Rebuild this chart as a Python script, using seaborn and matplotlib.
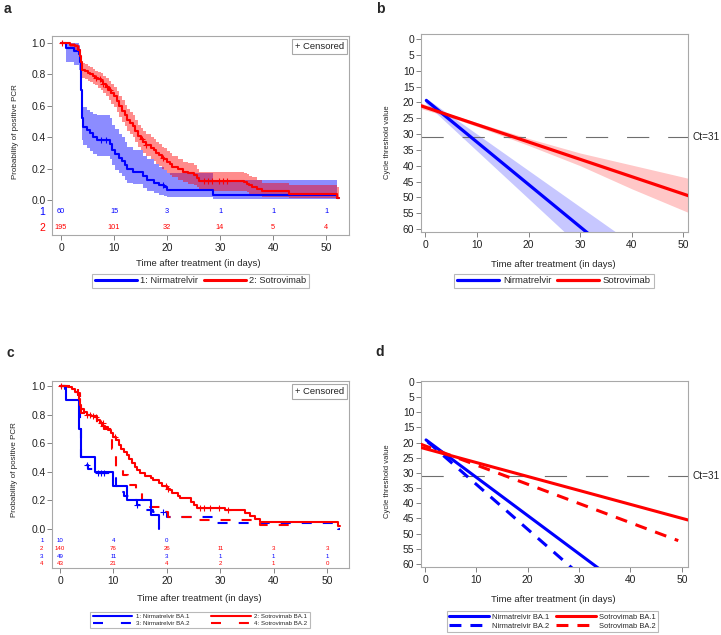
import numpy as np
import pandas as pd
import matplotlib
matplotlib.use("Agg")
import matplotlib.pyplot as plt
import matplotlib.transforms as mtransforms
from matplotlib.lines import Line2D
import seaborn as sns

# ---------------- data ----------------
BLUE = "#0000ff"
RED = "#ff0000"
GRAY = "#a8a8a8"

risk_times = [0, 10, 20, 30, 40, 50]

# Panel a: Kaplan-Meier, overall (step times, estimate, lower / upper confidence limits)
a_nirm_t = [0, 1.0, 2.5, 3.4, 3.6, 3.7, 4.0, 4.2, 4.9, 5.4, 6.0, 6.7, 9.2, 9.6, 10.2, 11.0, 11.5,
            12.0, 12.5, 13.5, 15.5, 16.3, 17.5, 18.5, 19.5, 20.0, 28.6, 52.1, 52.4]
a_nirm_s = [1.0, 0.967, 0.95, 0.93, 0.88, 0.70, 0.52, 0.467, 0.446, 0.425, 0.40, 0.38, 0.36, 0.32,
            0.29, 0.27, 0.25, 0.22, 0.20, 0.18, 0.15, 0.13, 0.11, 0.095, 0.08, 0.065, 0.033, 0.01, 0.01]
a_nirm_lo = [1.0, 0.88, 0.86, 0.83, 0.76, 0.57, 0.38, 0.35, 0.33, 0.31, 0.29, 0.28, 0.26, 0.22,
             0.19, 0.17, 0.15, 0.13, 0.11, 0.10, 0.075, 0.06, 0.045, 0.035, 0.025, 0.02, 0.005, 0.01, 0.01]
a_nirm_hi = [1.0, 1.0, 1.0, 0.99, 0.96, 0.81, 0.64, 0.59, 0.575, 0.56, 0.55, 0.54, 0.52, 0.48,
             0.45, 0.42, 0.40, 0.37, 0.34, 0.32, 0.28, 0.26, 0.23, 0.21, 0.19, 0.17, 0.13, 0.01, 0.01]
a_nirm_cens = [7.5, 8.5, 19.3]

a_sotr_t = [0, 1.7, 2.6, 3.3, 3.6, 3.8, 4.0, 4.5, 5.0, 5.5, 6.0, 6.5, 7.0, 7.5, 8.0, 8.5, 9.0, 9.5,
            10.0, 10.5, 11.0, 11.5, 12.0, 12.5, 13.0, 13.5, 14.0, 14.5, 15.0, 15.5, 16.0, 17.0, 17.5,
            18.0, 18.5, 19.0, 19.5, 20.0, 20.5, 21.0, 22.0, 23.0, 24.0, 25.0, 25.6, 26.0, 34.5, 35.0,
            35.5, 36.0, 37.0, 38.0, 43.0, 52.0, 52.5]
a_sotr_s = [1.0, 0.99, 0.98, 0.955, 0.92, 0.88, 0.83, 0.82, 0.81, 0.80, 0.79, 0.78, 0.77, 0.76, 0.74,
            0.72, 0.70, 0.68, 0.66, 0.63, 0.60, 0.57, 0.54, 0.51, 0.49, 0.47, 0.44, 0.41, 0.39, 0.37,
            0.35, 0.33, 0.32, 0.30, 0.285, 0.27, 0.26, 0.24, 0.23, 0.21, 0.195, 0.18, 0.17, 0.16, 0.14,
            0.12, 0.115, 0.105, 0.095, 0.085, 0.07, 0.055, 0.04, 0.015, 0.015]
a_sotr_lo = [1.0, 0.97, 0.955, 0.925, 0.885, 0.84, 0.78, 0.77, 0.76, 0.75, 0.74, 0.73, 0.715, 0.70,
             0.68, 0.66, 0.635, 0.61, 0.59, 0.56, 0.53, 0.50, 0.47, 0.44, 0.42, 0.40, 0.37, 0.34,
             0.32, 0.30, 0.28, 0.26, 0.25, 0.23, 0.215, 0.20, 0.19, 0.17, 0.16, 0.145, 0.13, 0.115,
             0.105, 0.095, 0.08, 0.06, 0.055, 0.05, 0.04, 0.035, 0.025, 0.02, 0.012, 0.004, 0.004]
a_sotr_hi = [1.0, 1.0, 0.995, 0.98, 0.95, 0.915, 0.875, 0.865, 0.855, 0.845, 0.835, 0.825, 0.815,
             0.81, 0.79, 0.775, 0.76, 0.74, 0.72, 0.695, 0.665, 0.635, 0.605, 0.58, 0.56, 0.54, 0.51,
             0.48, 0.46, 0.44, 0.42, 0.40, 0.39, 0.37, 0.355, 0.34, 0.33, 0.31, 0.30, 0.28, 0.26,
             0.245, 0.235, 0.225, 0.20, 0.18, 0.175, 0.165, 0.155, 0.145, 0.125, 0.11, 0.095, 0.08, 0.08]
a_sotr_cens = [0.1, 6.6, 7.3, 8.0, 8.7, 9.2, 15.3, 16.1, 19.3, 27.0, 27.7, 28.5, 29.8, 30.6, 31.3]

a_risk_nirm = [60, 15, 3, 1, 1, 1]
a_risk_sotr = [195, 101, 32, 14, 5, 4]

# Panel b: Ct regression, overall
b_nirm_day = [0.2, 32.0]
b_nirm_ct = [19.4, 62.0]
b_nirm_band_day = [0, 10, 20, 30, 40]
b_nirm_band_lo = [18.5, 30.0, 41.5, 53.0, 64.5]
b_nirm_band_hi = [20.2, 35.3, 50.4, 65.5, 80.6]
b_sotr_day = [-1.0, 51.0]
b_sotr_ct = [21.0, 49.5]
b_sotr_band_day = [-1.0, 5, 10, 20, 30, 40, 51]
b_sotr_band_lo = [20.1, 23.8, 26.4, 31.4, 36.0, 39.8, 44.0]
b_sotr_band_hi = [21.9, 24.8, 27.6, 33.6, 40.0, 47.3, 54.8]
ct_threshold = 31

# Panel c: Kaplan-Meier by variant
c_n1_t = [0, 1.1, 3.6, 4.0, 6.5, 10.0, 12.6, 17.1, 18.6]
c_n1_s = [1.0, 0.9, 0.7, 0.5, 0.4, 0.3, 0.2, 0.1, 0.0]
c_n1_cens = []

c_s1_t = [0, 1.5, 2.3, 2.8, 3.3, 3.6, 3.8, 4.0, 4.4, 5.0, 5.8, 6.5, 7.0, 7.5, 8.0, 8.5, 9.0, 9.5,
          10.0, 10.5, 11.0, 11.5, 12.0, 12.5, 13.0, 13.5, 14.0, 14.5, 15.0, 16.0, 17.0, 17.5, 18.5,
          19.0, 20.0, 20.5, 21.0, 22.0, 22.5, 24.5, 25.0, 25.6, 30.9, 34.6, 35.6, 36.5, 37.5, 52.0, 52.5]
c_s1_s = [1.0, 0.99, 0.98, 0.96, 0.94, 0.91, 0.87, 0.84, 0.82, 0.80, 0.79, 0.78, 0.76, 0.74, 0.72,
          0.71, 0.69, 0.67, 0.64, 0.62, 0.59, 0.56, 0.54, 0.52, 0.49, 0.46, 0.43, 0.41, 0.39, 0.37,
          0.355, 0.34, 0.32, 0.30, 0.28, 0.27, 0.25, 0.23, 0.215, 0.19, 0.17, 0.145, 0.13, 0.115,
          0.09, 0.07, 0.05, 0.02, 0.02]
c_s1_cens = [0.1, 5.0, 5.6, 6.2, 6.8, 8.0, 10.3, 19.8, 20.3, 26.2, 27.0, 28.0, 29.8, 31.5]

c_n2_t = [0, 1.0, 2.0, 3.4, 3.7, 4.0, 4.5, 5.3, 6.2, 9.8, 10.5, 11.2, 12.0, 13.5, 14.5, 15.5, 17.5,
          20.0, 28.6, 52.0, 52.4]
c_n2_s = [1.0, 0.98, 0.96, 0.94, 0.70, 0.50, 0.45, 0.42, 0.39, 0.36, 0.30, 0.26, 0.23, 0.20, 0.17,
          0.13, 0.12, 0.085, 0.045, 0.0, 0.0]
c_n2_cens = [5.1, 7.1, 7.6, 8.2, 14.5, 19.2]

c_s2_t = [0, 3.0, 3.4, 3.7, 4.0, 5.5, 7.0, 8.2, 9.7, 10.4, 11.8, 12.7, 14.3, 15.3, 16.8, 19.0, 20.3,
          25.6, 37.5, 43.0]
c_s2_s = [1.0, 0.98, 0.95, 0.88, 0.81, 0.79, 0.74, 0.70, 0.56, 0.42, 0.38, 0.31, 0.27, 0.20, 0.155,
          0.12, 0.086, 0.06, 0.03, 0.005]
c_s2_cens = [7.6, 8.0]

c_risk_1 = [10, 4, 0]
c_risk_2 = [140, 76, 26, 11, 3, 3]
c_risk_3 = [49, 11, 3, 1, 1, 1]
c_risk_4 = [43, 21, 4, 2, 1, 0]

# Panel d: Ct regression by variant
d_groups = ["Nirmatrelvir BA.1", "Nirmatrelvir BA.2", "Sotrovimab BA.1", "Sotrovimab BA.2"]
d_day = {"Nirmatrelvir BA.1": [0.2, 34.0], "Nirmatrelvir BA.2": [0.5, 29.0],
         "Sotrovimab BA.1": [-1.0, 51.2], "Sotrovimab BA.2": [-1.0, 49.3]}
d_ct = {"Nirmatrelvir BA.1": [19.1, 61.7], "Nirmatrelvir BA.2": [19.7, 61.9],
        "Sotrovimab BA.1": [21.5, 45.5], "Sotrovimab BA.2": [20.4, 52.3]}

# ---------------- figure ----------------
sns.set_style("white")
plt.rcParams["font.family"] = ["Liberation Sans", "DejaVu Sans"]

W, H = 721, 635
fig = plt.figure(figsize=(W / 100, H / 100), dpi=100)


def axpos(l, r, t, b):
    return [l / W, 1 - b / H, (r - l) / W, (b - t) / H]


ax_a = fig.add_axes(axpos(52, 349, 36, 235))
ax_b = fig.add_axes(axpos(421, 688, 34, 232))
ax_c = fig.add_axes(axpos(52, 349, 381, 568))
ax_d = fig.add_axes(axpos(421, 688, 381, 567))


def style(ax):
    ax.set_facecolor("white")
    for sp in ax.spines.values():
        sp.set_visible(True)
        sp.set_color(GRAY)
        sp.set_linewidth(0.8)
    ax.tick_params(axis="both", direction="out", length=3.5, width=0.6, color="#707070",
                   labelsize=7.4, pad=1.2, left=True, bottom=True, labelcolor="#222222")
    ax.tick_params(axis="x", pad=2.5)


def step_at(t, s, x):
    idx = np.searchsorted(np.asarray(t), np.asarray(x, dtype=float), side="right") - 1
    return np.asarray(s)[idx]


def km_line(ax, t, s, color, lw, ls="-"):
    df = pd.DataFrame({"day": t, "prob": s})
    sns.lineplot(data=df, x="day", y="prob", ax=ax, color=color, lw=lw, linestyle=ls,
                 drawstyle="steps-post", estimator=None, sort=False, legend=False, zorder=3)


def cens(ax, t, s, ct, color):
    if len(ct) == 0:
        return
    sns.scatterplot(x=ct, y=step_at(t, s, ct), ax=ax, marker="+", s=22, color=color,
                    linewidth=0.8, legend=False, zorder=4)


def km_axes(ax, ylo, yhi, xlo, xhi):
    style(ax)
    ax.set_xlim(xlo, xhi)
    ax.set_ylim(ylo, yhi)
    ax.set_xticks(risk_times)
    ax.set_yticks([0, 0.2, 0.4, 0.6, 0.8, 1.0])
    ax.set_yticklabels(["0.0", "0.2", "0.4", "0.6", "0.8", "1.0"])


def censored_box(ax, ytop):
    ax.text(0.983, ytop, "+ Censored", transform=ax.transAxes, ha="right", va="top",
            fontsize=6.8, color="#222222",
            bbox=dict(boxstyle="square,pad=0.3", fc="white", ec=GRAY, lw=0.8), zorder=6)


# ---- panel a ----
km_axes(ax_a, -0.223, 1.045, -1.7, 54.34)
ax_a.fill_between(a_nirm_t, a_nirm_lo, a_nirm_hi, step="post", color=BLUE, alpha=0.45, lw=0, zorder=1)
ax_a.fill_between(a_sotr_t, a_sotr_lo, a_sotr_hi, step="post", color=RED, alpha=0.45, lw=0, zorder=1)
km_line(ax_a, a_nirm_t, a_nirm_s, BLUE, 1.5)
km_line(ax_a, a_sotr_t, a_sotr_s, RED, 1.5)
cens(ax_a, a_nirm_t, a_nirm_s, a_nirm_cens, BLUE)
cens(ax_a, a_sotr_t, a_sotr_s, a_sotr_cens, RED)
ax_a.set_xlabel("Time after treatment (in days)", fontsize=6.8)
ax_a.set_ylabel("Probability of positive PCR", fontsize=5.8)
ax_a.xaxis.set_label_coords(0.494, -0.123)
ax_a.yaxis.set_label_coords(-0.111, 0.518)
censored_box(ax_a, 0.971)
tr_a = mtransforms.blended_transform_factory(ax_a.transAxes, ax_a.transData)
for yrow, lab, col, vals in [(-0.076, "1", BLUE, a_risk_nirm), (-0.178, "2", RED, a_risk_sotr)]:
    ax_a.text(-0.034, yrow, lab, transform=tr_a, ha="center", va="center", fontsize=7.5, color=col)
    for xt, v in zip(risk_times, vals):
        ax_a.text(xt, yrow, str(v), ha="center", va="center", fontsize=5.3, color=col)
leg_a = fig.legend([Line2D([], [], color=BLUE, lw=2.2), Line2D([], [], color=RED, lw=2.2)],
                   ["1: Nirmatrelvir", "2: Sotrovimab"], loc="center",
                   bbox_to_anchor=(200.5 / W, 1 - 281 / H), ncol=2, fontsize=6.7, frameon=True,
                   fancybox=False, edgecolor=GRAY, handlelength=4.5, handletextpad=0.35,
                   columnspacing=0.6, borderpad=0.3, borderaxespad=0)
leg_a.get_frame().set_linewidth(0.8)


# ---- panel b / d common ----
def ct_axes(ax, ylo, yhi, xlo, xhi, xlab_y, ylab_y):
    style(ax)
    ax.set_xlim(xlo, xhi)
    ax.set_ylim(yhi, ylo)
    ax.set_xticks([0, 10, 20, 30, 40, 50])
    ax.set_yticks(list(range(0, 61, 5)))
    ax.axhline(ct_threshold, color="#6e6e6e", lw=0.8, dashes=(20, 17), zorder=2)
    tr = mtransforms.blended_transform_factory(ax.transAxes, ax.transData)
    ax.text(1.015, ct_threshold, f"Ct={ct_threshold}", transform=tr, ha="left", va="center",
            fontsize=7.2, color="#222222")
    return xlab_y, ylab_y


def ct_labels(ax, xlab_y, ylab_y):
    ax.set_xlabel("Time after treatment (in days)", fontsize=6.8)
    ax.set_ylabel("Cycle threshold value", fontsize=5.5)
    ax.xaxis.set_label_coords(0.496, xlab_y)
    ax.yaxis.set_label_coords(-0.112, ylab_y)


# ---- panel b ----
ct_axes(ax_b, -1.59, 60.95, -0.83, 50.9, -0.139, 0.456)
ax_b.fill_between(b_nirm_band_day, b_nirm_band_lo, b_nirm_band_hi, color=BLUE, alpha=0.22, lw=0, zorder=1)
ax_b.fill_between(b_sotr_band_day, b_sotr_band_lo, b_sotr_band_hi, color=RED, alpha=0.22, lw=0, zorder=1)
df_b = pd.DataFrame({
    "day": b_nirm_day + b_sotr_day,
    "ct": b_nirm_ct + b_sotr_ct,
    "drug": ["Nirmatrelvir"] * len(b_nirm_day) + ["Sotrovimab"] * len(b_sotr_day),
})
sns.lineplot(data=df_b, x="day", y="ct", hue="drug", palette={"Nirmatrelvir": BLUE, "Sotrovimab": RED},
             ax=ax_b, lw=2.3, estimator=None, sort=False, legend=False, zorder=3)
ct_labels(ax_b, -0.139, 0.456)
leg_b = fig.legend([Line2D([], [], color=BLUE, lw=2.3), Line2D([], [], color=RED, lw=2.3)],
                   ["Nirmatrelvir", "Sotrovimab"], loc="center",
                   bbox_to_anchor=(554 / W, 1 - 281 / H), ncol=2, fontsize=6.8, frameon=True,
                   fancybox=False, edgecolor=GRAY, handlelength=4.45, handletextpad=0.42,
                   columnspacing=0.55, borderpad=0.3, borderaxespad=0)
leg_b.get_frame().set_linewidth(0.8)

# ---- panel c ----
km_axes(ax_c, -0.273, 1.035, -1.5, 54.1)
DASH_C = (0, (4.8, 5.3))
km_line(ax_c, c_n2_t, c_n2_s, BLUE, 1.5, DASH_C)
km_line(ax_c, c_s2_t, c_s2_s, RED, 1.5, DASH_C)
km_line(ax_c, c_n1_t, c_n1_s, BLUE, 1.5)
km_line(ax_c, c_s1_t, c_s1_s, RED, 1.5)
cens(ax_c, c_n1_t, c_n1_s, c_n1_cens, BLUE)
cens(ax_c, c_s1_t, c_s1_s, c_s1_cens, RED)
cens(ax_c, c_n2_t, c_n2_s, c_n2_cens, BLUE)
cens(ax_c, c_s2_t, c_s2_s, c_s2_cens, RED)
ax_c.set_xlabel("Time after treatment (in days)", fontsize=6.8)
ax_c.set_ylabel("Probability of positive PCR", fontsize=5.8)
ax_c.xaxis.set_label_coords(0.496, -0.139)
ax_c.yaxis.set_label_coords(-0.113, 0.529)
censored_box(ax_c, 0.969)
tr_c = mtransforms.blended_transform_factory(ax_c.transAxes, ax_c.transData)
for yrow, lab, col, vals in [(-0.082, "1", BLUE, c_risk_1), (-0.140, "2", RED, c_risk_2),
                             (-0.196, "3", BLUE, c_risk_3), (-0.245, "4", RED, c_risk_4)]:
    ax_c.text(-0.034, yrow, lab, transform=tr_c, ha="center", va="center", fontsize=4.4, color=col)
    for xt, v in zip(risk_times, vals):
        ax_c.text(xt, yrow, str(v), ha="center", va="center", fontsize=4.4, color=col)
hc = [Line2D([], [], color=BLUE, lw=1.5), Line2D([], [], color=BLUE, lw=1.5, ls=(0, (4.8, 8.6))),
      Line2D([], [], color=RED, lw=1.5), Line2D([], [], color=RED, lw=1.5, ls=(0, (4.8, 8.6)))]
leg_c = fig.legend(hc, ["1: Nirmatrelvir BA.1", "3: Nirmatrelvir BA.2",
                        "2: Sotrovimab BA.1", "4: Sotrovimab BA.2"], loc="center",
                   bbox_to_anchor=(200 / W, 1 - 620 / H), ncol=2, fontsize=4.4, frameon=True,
                   fancybox=False, edgecolor=GRAY, handlelength=6.5, handletextpad=0.55,
                   columnspacing=3.6, borderpad=0.35, borderaxespad=0, labelspacing=0.35)
leg_c.get_frame().set_linewidth(0.8)

# ---- panel d ----
ct_axes(ax_d, -0.33, 61.0, -0.78, 51.2, -0.148, 0.463)
rows = []
for g in d_groups:
    for x, y in zip(d_day[g], d_ct[g]):
        rows.append({"day": x, "ct": y, "drug": g.split()[0], "variant": g.split()[1]})
df_d = pd.DataFrame(rows)
sns.lineplot(data=df_d, x="day", y="ct", hue="drug", style="variant",
             palette={"Nirmatrelvir": BLUE, "Sotrovimab": RED},
             dashes={"BA.1": "", "BA.2": (3.9, 2.95)}, ax=ax_d, lw=2.2,
             estimator=None, sort=False, legend=False, zorder=3)
ct_labels(ax_d, -0.148, 0.463)
hd = [Line2D([], [], color=BLUE, lw=2.2), Line2D([], [], color=BLUE, lw=2.2, ls=(0, (3.9, 2.95))),
      Line2D([], [], color=RED, lw=2.2), Line2D([], [], color=RED, lw=2.2, ls=(0, (3.9, 2.95)))]
leg_d = fig.legend(hd, d_groups, loc="center", bbox_to_anchor=(552.5 / W, 1 - 621.5 / H), ncol=2,
                   fontsize=5.4, frameon=True, fancybox=False, edgecolor=GRAY, handlelength=5.3,
                   handletextpad=0.5, columnspacing=0.8, borderpad=0.3, borderaxespad=0,
                   labelspacing=0.25)
leg_d.get_frame().set_linewidth(0.8)

# panel letters
for lab, x, y in [("a", 7, 9), ("b", 380, 9), ("c", 10, 353), ("d", 380, 352)]:
    fig.text(x / W, 1 - y / H, lab, ha="center", va="center", fontsize=10, fontweight="bold")

fig.savefig("out.png", dpi=100)
